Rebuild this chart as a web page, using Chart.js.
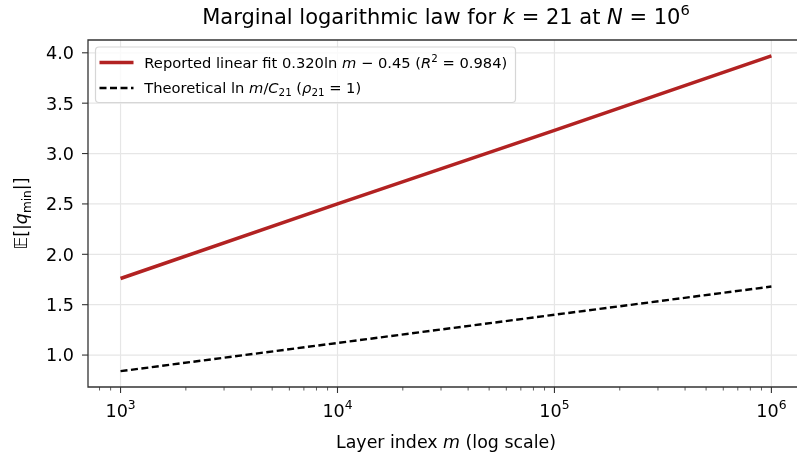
<!DOCTYPE html>
<html>
<head>
<meta charset="utf-8">
<script src="https://cdn.jsdelivr.net/npm/chart.js@4.4.1/dist/chart.umd.min.js"></script>
<style>
  html, body { margin: 0; padding: 0; background: #fff; overflow: hidden; }
</style>
</head>
<body>
<canvas id="grafico" width="797" height="457"></canvas>
<script>
// dados
const camadas = [1e3, 1e4, 1e5, 1e6];
const ajusteLinear = [1.76, 2.50, 3.23, 3.97];
const teorico = [0.84, 1.12, 1.40, 1.68];
const ticksY = [1.0, 1.5, 2.0, 2.5, 3.0, 3.5, 4.0];
const expoentesX = [3, 4, 5, 6];

const FONTE = '"DejaVu Sans", sans-serif';
const VERMELHO = '#b22222';

// texto com partes em itálico, sobrescrito e subscrito
function desenharRico(ctx, partes, x, y, tam, alinhar) {
  const fonteDe = p => {
    const t = (p.sup || p.sub) ? tam * 0.7 : tam;
    return (p.i ? 'italic ' : '') + t + 'px ' + FONTE;
  };
  let largura = 0;
  partes.forEach(p => { ctx.font = fonteDe(p); largura += ctx.measureText(p.t).width; });
  let cx = alinhar === 'center' ? x - largura / 2 : (alinhar === 'right' ? x - largura : x);
  ctx.textAlign = 'left';
  ctx.textBaseline = 'alphabetic';
  partes.forEach(p => {
    ctx.font = fonteDe(p);
    let dy = 0;
    if (p.sup) dy = -tam * 0.42;
    if (p.sub) dy = tam * 0.22;
    ctx.fillText(p.t, cx, y + dy);
    cx += ctx.measureText(p.t).width;
  });
  return largura;
}

// grade clara só nos ticks maiores
const pluginGrade = {
  id: 'pluginGrade',
  beforeDatasetsDraw(chart) {
    const { ctx, chartArea: a, scales: { x, y } } = chart;
    ctx.save();
    ctx.strokeStyle = '#e6e6e6';
    ctx.lineWidth = 1.2;
    ctx.beginPath();
    expoentesX.forEach(e => {
      const px = x.getPixelForValue(Math.pow(10, e));
      ctx.moveTo(px, a.top);
      ctx.lineTo(px, a.bottom);
    });
    ticksY.forEach(v => {
      const py = y.getPixelForValue(v);
      ctx.moveTo(a.left, py);
      ctx.lineTo(a.right, py);
    });
    ctx.stroke();
    ctx.restore();
  }
};

const pluginEixos = {
  id: 'pluginEixos',
  afterDraw(chart) {
    const { ctx, chartArea: a, scales: { x, y } } = chart;
    ctx.save();
    ctx.fillStyle = '#000';

    // moldura: esquerda, topo e base (o lado direito fica fora da figura)
    ctx.strokeStyle = '#333';
    ctx.lineWidth = 1.3;
    ctx.beginPath();
    ctx.moveTo(a.right + 10, a.top);
    ctx.lineTo(a.left, a.top);
    ctx.lineTo(a.left, a.bottom);
    ctx.lineTo(a.right + 10, a.bottom);
    ctx.stroke();

    // ticks do eixo y
    ctx.lineWidth = 1.1;
    ticksY.forEach(v => {
      const py = y.getPixelForValue(v);
      ctx.beginPath();
      ctx.moveTo(a.left - 6, py);
      ctx.lineTo(a.left, py);
      ctx.stroke();
      desenharRico(ctx, [{ t: v.toFixed(1) }], a.left - 14, py + 6.4, 17.6, 'right');
    });

    // ticks maiores e menores do eixo x
    for (let e = 2; e <= 6; e++) {
      for (let k = 1; k <= 9; k++) {
        const v = k * Math.pow(10, e);
        if (v < x.min || v > x.max) continue;
        const px = x.getPixelForValue(v);
        ctx.lineWidth = k === 1 ? 1.1 : 0.8;
        ctx.beginPath();
        ctx.moveTo(px, a.bottom);
        ctx.lineTo(px, a.bottom + (k === 1 ? 6 : 3.5));
        ctx.stroke();
      }
    }
    expoentesX.forEach(e => {
      const px = x.getPixelForValue(Math.pow(10, e));
      desenharRico(ctx, [{ t: '10' }, { t: String(e), sup: true }], px, 416.5, 17.6, 'center');
    });

    const centro = 446;
    // título do eixo x
    desenharRico(ctx, [{ t: 'Layer index ' }, { t: 'm', i: true }, { t: ' (log scale)' }], centro, 447.5, 17.4, 'center');

    // título do eixo y
    ctx.save();
    ctx.translate(27, (a.top + a.bottom) / 2);
    ctx.rotate(-Math.PI / 2);
    desenharRico(ctx, [{ t: '𝔼[|' }, { t: 'q', i: true }, { t: 'min', sub: true }, { t: '|]' }], 0, 0, 17.4, 'center');
    ctx.restore();

    // título
    desenharRico(ctx, [
      { t: 'Marginal logarithmic law for ' }, { t: 'k', i: true }, { t: ' = 21 at ' },
      { t: 'N', i: true }, { t: ' = 10' }, { t: '6', sup: true }
    ], centro, 23.5, 21, 'center');

    // legenda
    const lx = 95.5, ly = 47, lw = 420, lh = 55.5;
    ctx.beginPath();
    ctx.roundRect(lx, ly, lw, lh, 3.5);
    ctx.fillStyle = 'rgba(255,255,255,0.8)';
    ctx.fill();
    ctx.lineWidth = 1.2;
    ctx.strokeStyle = '#d6d6d6';
    ctx.stroke();

    ctx.lineWidth = 3.3;
    ctx.strokeStyle = VERMELHO;
    ctx.beginPath();
    ctx.moveTo(99.5, 62.5);
    ctx.lineTo(133.5, 62.5);
    ctx.stroke();

    ctx.lineWidth = 2.4;
    ctx.strokeStyle = '#000';
    ctx.setLineDash([7, 3.5]);
    ctx.beginPath();
    ctx.moveTo(99.5, 88);
    ctx.lineTo(133.5, 88);
    ctx.stroke();
    ctx.setLineDash([]);

    ctx.fillStyle = '#000';
    desenharRico(ctx, [
      { t: 'Reported linear fit 0.320ln ' }, { t: 'm', i: true }, { t: ' − 0.45 (' },
      { t: 'R', i: true }, { t: '2', sup: true }, { t: ' = 0.984)' }
    ], 144.3, 67.7, 14.7, 'left');
    desenharRico(ctx, [
      { t: 'Theoretical ln ' }, { t: 'm', i: true }, { t: '/' }, { t: 'C', i: true },
      { t: '21', sub: true }, { t: ' (' }, { t: 'ρ', i: true }, { t: '21', sub: true }, { t: ' = 1)' }
    ], 144.3, 92.7, 14.7, 'left');

    ctx.restore();
  }
};

new Chart(document.getElementById('grafico'), {
  type: 'line',
  data: {
    datasets: [
      {
        label: 'Reported linear fit',
        data: camadas.map((m, i) => ({ x: m, y: ajusteLinear[i] })),
        borderColor: VERMELHO,
        borderWidth: 3.5,
        pointRadius: 0,
        tension: 0
      },
      {
        label: 'Theoretical',
        data: camadas.map((m, i) => ({ x: m, y: teorico[i] })),
        borderColor: '#000',
        borderWidth: 2.4,
        borderDash: [7, 3.5],
        pointRadius: 0,
        tension: 0
      }
    ]
  },
  options: {
    responsive: false,
    animation: false,
    layout: { padding: { top: 40, left: 0, right: 0, bottom: 0 } },
    plugins: { legend: { display: false }, tooltip: { enabled: false }, title: { display: false } },
    scales: {
      x: {
        type: 'logarithmic',
        min: Math.pow(10, 2.85),
        max: Math.pow(10, 6.118),
        afterFit: s => { s.height = 70; },
        ticks: { display: false },
        grid: { display: false },
        border: { display: false }
      },
      y: {
        min: 0.683,
        max: 4.127,
        afterFit: s => { s.width = 88; },
        ticks: { display: false },
        grid: { display: false },
        border: { display: false }
      }
    }
  },
  plugins: [pluginGrade, pluginEixos]
});
</script>
</body>
</html>
